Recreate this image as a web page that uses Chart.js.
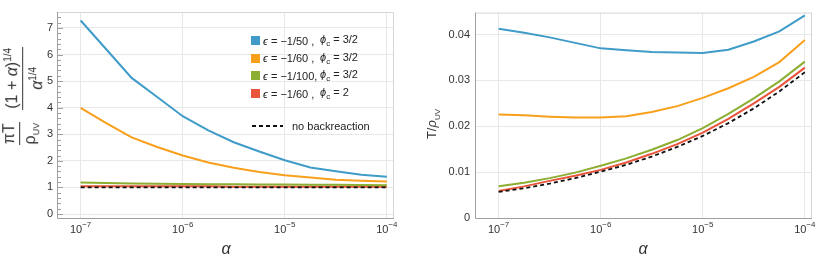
<!DOCTYPE html>
<html>
<head>
<meta charset="utf-8">
<script src="https://cdn.jsdelivr.net/npm/chart.js@4.4.1/dist/chart.umd.min.js"></script>
<style>
  body { margin: 0; background: #fff; font-family: "Liberation Sans", Arial, sans-serif; }
  #wrap { position: relative; width: 822px; height: 268px; overflow: hidden; }
  .panel { position: absolute; top: 0; width: 411px; height: 268px; }
  .xtitle { position: absolute; font-size: 16px; font-style: italic; color: #333; transform: translate(-50%, -50%); }
  .ytitle { position: absolute; color: #333; transform: translate(-50%, -50%) rotate(-90deg); white-space: nowrap; }
  .frac { display: inline-flex; flex-direction: column; align-items: center; vertical-align: middle; }
  .frac .num { border-bottom: 1.2px solid #333; padding: 0 1px 1px; line-height: 18px; }
  .frac .den { padding-top: 1px; line-height: 18px; }
  #legend { position: absolute; left: 251px; top: 32px; font-size: 11px; color: #222; }
  #legend .row { height: 17.6px; display: flex; align-items: center; }
  #legend .sw { width: 9px; height: 9px; margin-right: 3px; }
  #legend .eps { width: 57px; display: inline-block; }
  #legend i { font-style: italic; }
</style>
</head>
<body>
<div id="wrap">
  <div class="panel" style="left:0"><canvas id="leftChart" width="411" height="268"></canvas></div>
  <div class="panel" style="left:411px"><canvas id="rightChart" width="411" height="268"></canvas></div>

  <div class="ytitle" style="left:23px; top:96px; font-size:16px;">
    <span class="frac"><span class="num">πT</span><span class="den">ρ<sub style="font-size:9px">UV</sub></span></span>
    <span class="frac" style="margin-left:8px"><span class="num">(1 + <i>α</i>)<sup style="font-size:10px">1/4</sup></span><span class="den"><i>α</i><sup style="font-size:10px">1/4</sup></span></span>
  </div>
  <div class="ytitle" style="left:433px; top:124px; font-size:13px;">T/<i>ρ</i><sub style="font-size:8px">UV</sub></div>

  <div class="xtitle" style="left:226px; top:249px;">α</div>
  <div class="xtitle" style="left:643px; top:249px;">α</div>

  <div id="legend"></div>
</div>

<script>
// alpha sample points (log-spaced)
const alphas = [1e-7, 1.78e-7, 3.16e-7, 5.62e-7, 1e-6, 1.78e-6, 3.16e-6, 5.62e-6, 1e-5, 1.78e-5, 3.16e-5, 5.62e-5, 1e-4];

// left panel: pi T (1+a)^(1/4) / (rho_UV a^(1/4))
const ratioEps50 = [7.28, 6.20, 5.12, 4.40, 3.68, 3.15, 2.70, 2.35, 2.02, 1.75, 1.61, 1.48, 1.40];
const ratioEps60 = [3.99, 3.42, 2.88, 2.52, 2.20, 1.94, 1.74, 1.58, 1.46, 1.37, 1.29, 1.25, 1.22];
const ratioEps100 = [1.19, 1.17, 1.15, 1.14, 1.13, 1.12, 1.12, 1.11, 1.11, 1.10, 1.10, 1.09, 1.08];
const ratioPhi2 = [1.04, 1.04, 1.04, 1.04, 1.04, 1.04, 1.03, 1.03, 1.03, 1.03, 1.03, 1.03, 1.03];
const ratioNoBack = [1, 1, 1, 1, 1, 1, 1, 1, 1, 1, 1, 1, 1];

// right panel: T / rho_UV
const tEps50 = [0.0413, 0.0404, 0.0394, 0.0382, 0.0370, 0.0366, 0.0362, 0.0361, 0.0360, 0.0367, 0.0385, 0.0407, 0.0442];
const tEps60 = [0.0226, 0.0224, 0.0221, 0.0219, 0.0219, 0.0222, 0.0231, 0.0244, 0.0262, 0.0283, 0.0308, 0.0340, 0.0388];
const tEps100 = [0.0069, 0.0077, 0.0087, 0.0099, 0.0114, 0.0130, 0.0149, 0.0170, 0.0196, 0.0227, 0.0261, 0.0298, 0.0341];
const tPhi2 = [0.0059, 0.0069, 0.0081, 0.0092, 0.0105, 0.0121, 0.0140, 0.0161, 0.0186, 0.0216, 0.0250, 0.0286, 0.0328];
const tNoBack = [0.0057, 0.0065, 0.0075, 0.0087, 0.0101, 0.0116, 0.0134, 0.0155, 0.0179, 0.0207, 0.0239, 0.0276, 0.0318];

// ticks
const xTicks = [1e-7, 1e-6, 1e-5, 1e-4];
const xTickExps = ['\u22127', '\u22126', '\u22125', '\u22124'];
const leftYTicks = [0, 1, 2, 3, 4, 5, 6, 7];
const rightYTicks = [0, 0.01, 0.02, 0.03, 0.04];
const rightYLabels = ['0', '0.01', '0.02', '0.03', '0.04'];

const seriesLabels = [
    ['\u03f5 = \u22121/50 ,', '3/2'],
    ['\u03f5 = \u22121/60 ,', '3/2'],
    ['\u03f5 = \u22121/100,', '3/2'],
    ['\u03f5 = \u22121/60 ,', '2']
];
const colors = ['#3f9cc8', '#f8a01c', '#8cae32', '#e8553a'];
const FONT = '"Liberation Sans", Arial, sans-serif';

function pts(ys) {
    return alphas.map((a, i) => ({ x: a, y: ys[i] }));
}

function makeDatasets(list, noBack) {
    const ds = [{
        data: pts(noBack),
        borderColor: '#111',
        borderWidth: 1.8,
        borderDash: [4, 3]
    }];
    list.forEach((ys, i) => {
        ds.push({ data: pts(ys), borderColor: colors[i], borderWidth: 2 });
    });
    return ds;
}

// frame, x tick labels with superscripts, minor y ticks
const framePlugin = {
    id: 'frame',
    afterDraw(chart, args, opts) {
        const ctx = chart.ctx;
        const a = chart.chartArea;
        ctx.save();
        ctx.lineWidth = 1;
        ctx.strokeStyle = '#d6d6d6';
        ctx.beginPath();
        ctx.moveTo(a.left, a.top + 0.5);
        ctx.lineTo(a.right + 0.5, a.top + 0.5);
        ctx.lineTo(a.right + 0.5, a.bottom);
        ctx.stroke();
        ctx.strokeStyle = '#a0a0a0';
        ctx.beginPath();
        ctx.moveTo(a.left - 0.5, a.top);
        ctx.lineTo(a.left - 0.5, a.bottom + 0.5);
        ctx.lineTo(a.right + 1, a.bottom + 0.5);
        ctx.stroke();

        if (opts.minor) {
            const ys = chart.scales.y;
            ctx.strokeStyle = '#a0a0a0';
            ctx.beginPath();
            for (let k = 0; k <= 37; k++) {
                const v = k * 0.2;
                const py = Math.round(ys.getPixelForValue(v)) + 0.5;
                const len = (k % 5 === 0) ? 5 : 3;
                ctx.moveTo(a.left, py);
                ctx.lineTo(a.left + len, py);
            }
            ctx.stroke();
        }

        // x tick labels 10^n
        const xs = chart.scales.x;
        ctx.fillStyle = '#333';
        ctx.textBaseline = 'alphabetic';
        xTicks.forEach((v, i) => {
            const px = xs.getPixelForValue(v);
            ctx.font = '11px ' + FONT;
            const w1 = ctx.measureText('10').width;
            ctx.font = '8px ' + FONT;
            const w2 = ctx.measureText(xTickExps[i]).width;
            const x0 = px - (w1 + w2) / 2;
            ctx.font = '11px ' + FONT;
            ctx.fillText('10', x0, 233);
            ctx.font = '8px ' + FONT;
            ctx.fillText(xTickExps[i], x0 + w1, 227);
        });
        ctx.restore();
    }
};

function makeChart(id, datasets, yCfg, axisWidth, padRight, minor) {
    return new Chart(document.getElementById(id), {
        type: 'line',
        data: { datasets: datasets },
        options: {
            responsive: false,
            animation: false,
            devicePixelRatio: 1,
            layout: { padding: { top: 12, right: padRight, left: 0, bottom: 0 } },
            elements: { point: { radius: 0 }, line: { tension: 0 } },
            plugins: { legend: { display: false }, tooltip: { enabled: false }, frame: { minor: minor } },
            scales: {
                x: {
                    type: 'logarithmic',
                    min: Math.pow(10, -7.19),
                    max: Math.pow(10, -3.94),
                    afterBuildTicks: s => { s.ticks = xTicks.map(v => ({ value: v })); },
                    afterFit: s => { s.height = 50; },
                    ticks: { display: false },
                    grid: { color: '#e8e8e8', drawTicks: false },
                    border: { display: false }
                },
                y: {
                    type: 'linear',
                    min: yCfg.min,
                    max: yCfg.max,
                    afterBuildTicks: s => { s.ticks = yCfg.ticks.map(v => ({ value: v })); },
                    afterFit: s => { s.width = axisWidth; },
                    ticks: {
                        padding: yCfg.padding,
                        color: '#333',
                        font: { family: FONT, size: 11 },
                        callback: (v, i) => yCfg.labels[i]
                    },
                    grid: { color: '#e8e8e8', drawTicks: false },
                    border: { display: false }
                }
            }
        },
        plugins: [framePlugin]
    });
}

makeChart('leftChart',
    makeDatasets([ratioEps50, ratioEps60, ratioEps100, ratioPhi2], ratioNoBack),
    { min: -0.15, max: 7.6, ticks: leftYTicks, labels: leftYTicks.map(String), padding: 5 },
    58, 18, true);

makeChart('rightChart',
    makeDatasets([tEps50, tEps60, tEps100, tPhi2], tNoBack),
    { min: 0, max: 0.0448, ticks: rightYTicks, labels: rightYLabels, padding: 6 },
    65, 11, false);

// legend
const legend = document.getElementById('legend');
seriesLabels.forEach((lab, i) => {
    const row = document.createElement('div');
    row.className = 'row';
    row.innerHTML = '<span class="sw" style="background:' + colors[i] + '"></span>' +
        '<span class="eps"><i>\u03f5</i>' + lab[0].slice(1) + '</span>' +
        '<span><i>\u03d5</i><sub style="font-size:8px">c</sub> = ' + lab[1] + '</span>';
    legend.appendChild(row);
});
const gap = document.createElement('div');
gap.style.height = '15px';
legend.appendChild(gap);
const nb = document.createElement('div');
nb.className = 'row';
nb.innerHTML = '<svg width="32" height="4" style="margin-right:9px"><line x1="1" y1="2" x2="32" y2="2" stroke="#111" stroke-width="1.8" stroke-dasharray="4,3"/></svg><span>no backreaction</span>';
legend.appendChild(nb);
</script>
</body>
</html>
